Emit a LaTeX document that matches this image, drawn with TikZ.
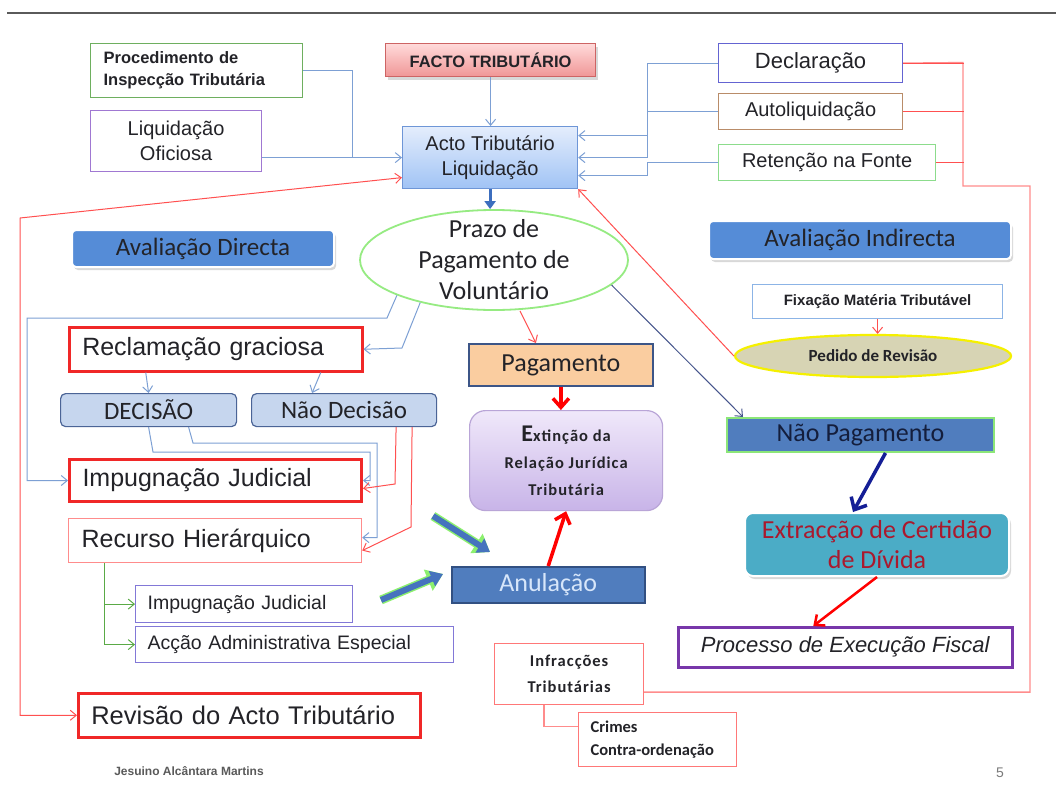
\documentclass[tikz,border=0pt]{standalone}
\usepackage{fontspec}
\setmainfont{Liberation Sans}
\newfontfamily\calib{Carlito}
\newfontfamily\calibsp[LetterSpace=6]{Carlito}
\usetikzlibrary{arrows.meta,shapes.geometric,shadows}
\newcommand\fsz[2]{\fontsize{#1}{#2}\selectfont}

\definecolor{txt}{RGB}{35,35,40}
\definecolor{cblue}{RGB}{125,160,212}
\definecolor{cred}{RGB}{255,80,80}
\definecolor{cpink}{RGB}{255,140,140}
\definecolor{cgreen}{RGB}{90,170,70}
\definecolor{navyln}{RGB}{70,85,140}
\definecolor{navy}{RGB}{20,30,150}
\definecolor{procG}{RGB}{110,175,95}
\definecolor{liqP}{RGB}{160,120,210}
\definecolor{factoB}{RGB}{205,100,100}
\definecolor{factoT}{RGB}{255,218,218}
\definecolor{factoBot}{RGB}{240,150,150}
\definecolor{actoB}{RGB}{110,150,215}
\definecolor{actoT}{RGB}{228,237,252}
\definecolor{actoBot}{RGB}{160,195,245}
\definecolor{declB}{RGB}{100,100,210}
\definecolor{autoB}{RGB}{185,140,105}
\definecolor{retB}{RGB}{140,220,140}
\definecolor{avalF}{RGB}{85,140,215}
\definecolor{prazoG}{RGB}{150,235,130}
\definecolor{fixB}{RGB}{140,180,230}
\definecolor{pedF}{RGB}{215,212,180}
\definecolor{pedB}{RGB}{245,240,0}
\definecolor{redB}{RGB}{240,40,40}
\definecolor{decF}{RGB}{198,214,238}
\definecolor{decB}{RGB}{75,100,150}
\definecolor{pagF}{RGB}{250,205,160}
\definecolor{pagB}{RGB}{60,85,135}
\definecolor{extT}{RGB}{240,232,250}
\definecolor{extBot}{RGB}{200,180,232}
\definecolor{extB}{RGB}{185,165,215}
\definecolor{npagF}{RGB}{80,125,190}
\definecolor{npagB}{RGB}{140,230,120}
\definecolor{recB}{RGB}{255,140,140}
\definecolor{extrF}{RGB}{75,172,198}
\definecolor{extrT}{RGB}{170,25,45}
\definecolor{anulB}{RGB}{50,80,130}
\definecolor{anulT}{RGB}{215,230,250}
\definecolor{impsB}{RGB}{130,120,215}
\definecolor{pefB}{RGB}{120,55,170}
\definecolor{infB}{RGB}{255,120,120}
\definecolor{glow}{RGB}{140,240,110}
\definecolor{barblue}{RGB}{70,115,190}
\definecolor{foot}{RGB}{90,90,90}

\tikzset{
  box/.style={draw, inner sep=0pt, anchor=north west, text=txt, align=center, line width=1.2pt},
  sarrow/.style={-{Straight Barb[length=6pt,width=10pt]}},
  blueln/.style={draw=cblue, line width=1pt},
  bluearr/.style={blueln, sarrow},
  redln/.style={draw=cred, line width=1pt},
  redarr/.style={redln, sarrow},
  pinkln/.style={draw=cpink, line width=1.3pt},
  greenarr/.style={draw=cgreen, line width=1pt, sarrow},
  redthick/.style={draw=red, line width=3.5pt, -{Straight Barb[length=9pt,width=16pt]}},
  navythick/.style={draw=navy, line width=3.5pt, -{Straight Barb[length=10pt,width=18pt]}},
  shad/.style={drop shadow={shadow xshift=2pt, shadow yshift=-3pt, opacity=0.3}},
}

\begin{document}
\begin{tikzpicture}[x=1pt,y=-1pt]
\fill[white] (0,0) rectangle (1056,800);
\useasboundingbox (0,0) rectangle (1056,800);
\draw[line width=2pt, color=foot] (7,13) -- (1056,13);

% top left
\node[box, draw=procG, minimum width=212pt, minimum height=54pt, text width=186pt, align=left,
      font=\bfseries\fsz{16.5}{22}] (proc) at (90,43) {Procedimento de\\Inspecção Tributária};
\node[box, draw=liqP, minimum width=171pt, minimum height=61pt, font=\fsz{20}{25}] (liqof) at (90,110) {Liquidação\\Oficiosa};
\node[box, draw=factoB, top color=factoT, bottom color=factoBot, minimum width=210pt, minimum height=33pt,
      font=\bfseries\fsz{16.5}{20}, shad] (facto) at (385,43) {FACTO TRIBUTÁRIO};
\node[box, draw=actoB, top color=actoT, bottom color=actoBot, minimum width=175pt, minimum height=62pt,
      font=\fsz{20}{25}] (acto) at (402,126) {Acto Tributário\\Liquidação};

% top right
\node[box, draw=declB, minimum width=184pt, minimum height=39pt, font=\fsz{22}{26}] (decl) at (718,43) {Declaração};
\node[box, draw=autoB, minimum width=184pt, minimum height=36pt, font=\fsz{20}{24}] (auto) at (718,93) {Autoliquidação};
\node[box, draw=retB, minimum width=217pt, minimum height=36pt, font=\fsz{20}{24}] (ret) at (718,144) {Retenção na Fonte};

% evaluation labels
\node[box, draw=white, line width=2pt, fill=avalF, rounded corners=4pt, minimum width=262pt, minimum height=37pt,
      font=\calib\fsz{25}{28}, shad] (avd) at (71,229) {Avaliação Directa};
\node[box, draw=white, line width=2pt, fill=avalF, rounded corners=4pt, minimum width=302pt, minimum height=38pt,
      font=\calib\fsz{25}{28}, shad] (avi) at (708,220) {Avaliação Indirecta};

% prazo ellipse
\node[ellipse, draw=prazoG, line width=1.8pt, fill=white, minimum width=268pt, minimum height=100pt, inner sep=0pt] (prazo) at (494,260) {};
\node[text=txt, align=center, font=\calib\fsz{26}{31}] (prazotxt) at (prazo.center) {Prazo de\\Pagamento de\\Voluntário};

% indirect
\node[box, draw=fixB, minimum width=250pt, minimum height=34pt, font=\bfseries\fsz{15}{18}] (fix) at (752,284) {Fixação Matéria Tributável};
\node[ellipse, draw=pedB, line width=2.2pt, fill=pedF, minimum width=276pt, minimum height=42pt, inner sep=0pt] (pedido) at (873,356) {};
\node[text=txt, font=\calib\bfseries\fsz{17}{20}] (pedtxt) at (pedido.center) {Pedido de Revisão};

% left column
\node[box, draw=redB, line width=2.5pt, minimum width=293pt, minimum height=44pt, text width=267pt, align=left,
      font=\fsz{25}{28}] (recl) at (68,326) {Reclamação graciosa};
\node[box, draw=decB, fill=decF, rounded corners=5pt, minimum width=176pt, minimum height=33pt,
      font=\calib\fsz{25}{28}] (dec) at (60,393) {DECISÃO};
\node[box, draw=decB, fill=decF, rounded corners=5pt, minimum width=185pt, minimum height=33pt,
      font=\calib\fsz{25}{28}] (ndec) at (251,393) {Não Decisão};
\node[box, draw=redB, line width=3pt, minimum width=292pt, minimum height=42pt, text width=266pt, align=left,
      font=\fsz{25}{28}] (impj) at (68,458) {Impugnação Judicial};
\node[box, draw=recB, minimum width=293pt, minimum height=44pt, text width=267pt, align=left,
      font=\fsz{25}{28}] (rec) at (68,518) {Recurso Hierárquico};
\node[box, draw=impsB, minimum width=217pt, minimum height=37pt, text width=193pt, align=left,
      font=\fsz{19.5}{23}] (imps) at (135,585) {Impugnação Judicial};
\node[box, draw=impsB, minimum width=318pt, minimum height=36pt, text width=294pt, align=left,
      font=\fsz{19.5}{23}] (acc) at (135,626) {Acção Administrativa Especial};
\node[box, draw=redB, line width=2.5pt, minimum width=342pt, minimum height=44pt, text width=316pt, align=left,
      font=\fsz{25.5}{28}] (revis) at (77,692) {Revisão do Acto Tributário};

% centre
\node[box, draw=pagB, fill=pagF, line width=1.8pt, minimum width=184pt, minimum height=42pt,
      font=\calib\fsz{26}{29}] (pag) at (468,343) {Pagamento};
\node[box, draw=extB, top color=extT, bottom color=extBot, rounded corners=16pt, minimum width=193pt, minimum height=100pt,
      font=\calibsp\bfseries\fsz{16.5}{27}] (ext) at (469,410) {{\fsz{24}{27}E}xtinção da\\Relação Jurídica\\Tributária};
\node[box, draw=anulB, fill=npagF, line width=1.5pt, minimum width=193pt, minimum height=36pt, text=anulT,
      font=\calib\fsz{26}{29}] (anul) at (451,566) {Anulação};

% right lower
\node[box, draw=npagB, fill=npagF, line width=2pt, minimum width=267pt, minimum height=34pt, text={rgb,255:red,20;green,30;blue,60},
      font=\calib\fsz{26}{29}] (npag) at (726,417) {Não Pagamento};
\node[box, draw=white, line width=2pt, fill=extrF, rounded corners=8pt, minimum width=264pt, minimum height=63pt, text=extrT,
      font=\calib\fsz{26}{30}, shad] (extr) at (744,512) {Extracção de Certidão\\de Dívida};
\node[box, draw=pefB, line width=2.5pt, minimum width=334pt, minimum height=40pt,
      font=\itshape\fsz{22}{26}] (pef) at (677,626) {Processo de Execução Fiscal};
\node[box, draw=infB, minimum width=149pt, minimum height=61pt, font=\calibsp\bfseries\fsz{16.5}{26}] (infr) at (494,643) {Infracções\\Tributárias};
\node[box, draw=infB, minimum width=158pt, minimum height=54pt, text width=134pt, align=left,
      font=\calib\bfseries\fsz{16.5}{23}] (crimes) at (578,712) {Crimes\\Contra-ordenação};

% footer
\node[text=foot, font=\bfseries\fsz{12}{14}] (author) at (189,771) {Jesuino Alcântara Martins};
\node[text=foot!80, font=\fsz{14}{16}] (pagenum) at (1000,773) {5};

% ---------- connectors ----------
\draw[blueln] (proc.east) -| (352,157);
\draw[bluearr] (liqof.east |- acto.west) -- (acto.west);
\draw[bluearr] (facto.south) -- (facto.south |- acto.north);
\draw[bluearr] (decl.west) -- ++(-71,0) |- ([yshift=22pt]acto.east);
\draw[bluearr] (auto.west) -- ++(-71,0) |- (acto.east);
\draw[bluearr] (ret.west) -- ++(-71,0) |- ([yshift=-18pt]acto.east);

\draw[draw={rgb,255:red,60;green,110;blue,190}, line width=3pt, -{Triangle[length=8pt,width=11pt]}] (acto.south) -- (acto.south |- prazo.north);

\draw[redln, {Straight Barb[length=6pt,width=10pt]}-{Straight Barb[length=6pt,width=10pt]}]
   ([yshift=-20pt]acto.west) -- (20,218) |- (revis.west);
\draw[redarr] (pedido.west) -- (acto.south east);
\draw[redarr] (fix.south) -- (fix.south |- pedido.north);

\draw[bluearr] (prazo.200) -- (387,318) -- (27,318) |- (impj.west);
\draw[bluearr] (prazo.210) -- (402,348) -- (recl.east);
\draw[redarr] ([xshift=26pt]prazo.south) -- ([xshift=-25pt]pag.north);
\draw[draw=navyln, line width=1pt, sarrow] (prazo.-12) -- ([xshift=17pt]npag.north west);

\draw[bluearr] ([xshift=-70pt]recl.south) -- (dec.north);
\draw[bluearr] ([xshift=105pt]recl.south) -- ([xshift=-32pt]ndec.north);
\draw[bluearr] (dec.south) -- (153,452) -- (370,452) |- (impj.east);
\draw[bluearr] ([xshift=40pt]dec.south) -- (193,443) -- (377,443) |- ([yshift=3pt]rec.east);
\draw[redarr] ([xshift=52pt]ndec.south) -- (395,484) -- ([yshift=-8pt]impj.east);
\draw[redarr] ([xshift=68pt]ndec.south) -- (411,527) -- ([yshift=-10pt]rec.east);

\draw[greenarr] ([xshift=-111pt]rec.south) |- (acc.west);
\draw[greenarr] ([xshift=-111pt]rec.south |- imps.west) -- (imps.west);

\draw[redthick] (pag.south) -- (pag.south |- ext.north);
\draw[redthick] (anul.north) -- (ext.south);

\coordinate (g1s) at (433,516);
\coordinate (g1e) at (490,552);
\coordinate (g2s) at (381,600);
\coordinate (g2e) at (443,574);
\foreach \s/\e in {g1s/g1e, g2s/g2e}{
  \draw[glow, line width=9pt, -{Triangle[length=16pt,width=22pt]}] (\s) -- (\e);
  \draw[barblue, line width=6pt, -{Triangle[length=12pt,width=16pt]}] (\s) -- (\e);
}

\draw[navythick] ([xshift=25pt]npag.south) -- ([xshift=-24pt]extr.north);
\draw[draw=red, line width=2.5pt, -{Straight Barb[length=8pt,width=14pt]}] (extr.south) -- ([xshift=-32pt]pef.north);

\draw[pinkln] ([xshift=-25pt]infr.south) |- ([yshift=13pt]crimes.west);
\draw[pinkln] ([yshift=-18pt]infr.east) -| (1030,186) -| (963,62.5) -- (decl.east);
\draw[redln] (decl.east) -- ++(61,0);
\draw[redln] (auto.east) -- ++(61,0);
\draw[redln] (ret.east) -- ++(28,0);
\end{tikzpicture}
\end{document}
